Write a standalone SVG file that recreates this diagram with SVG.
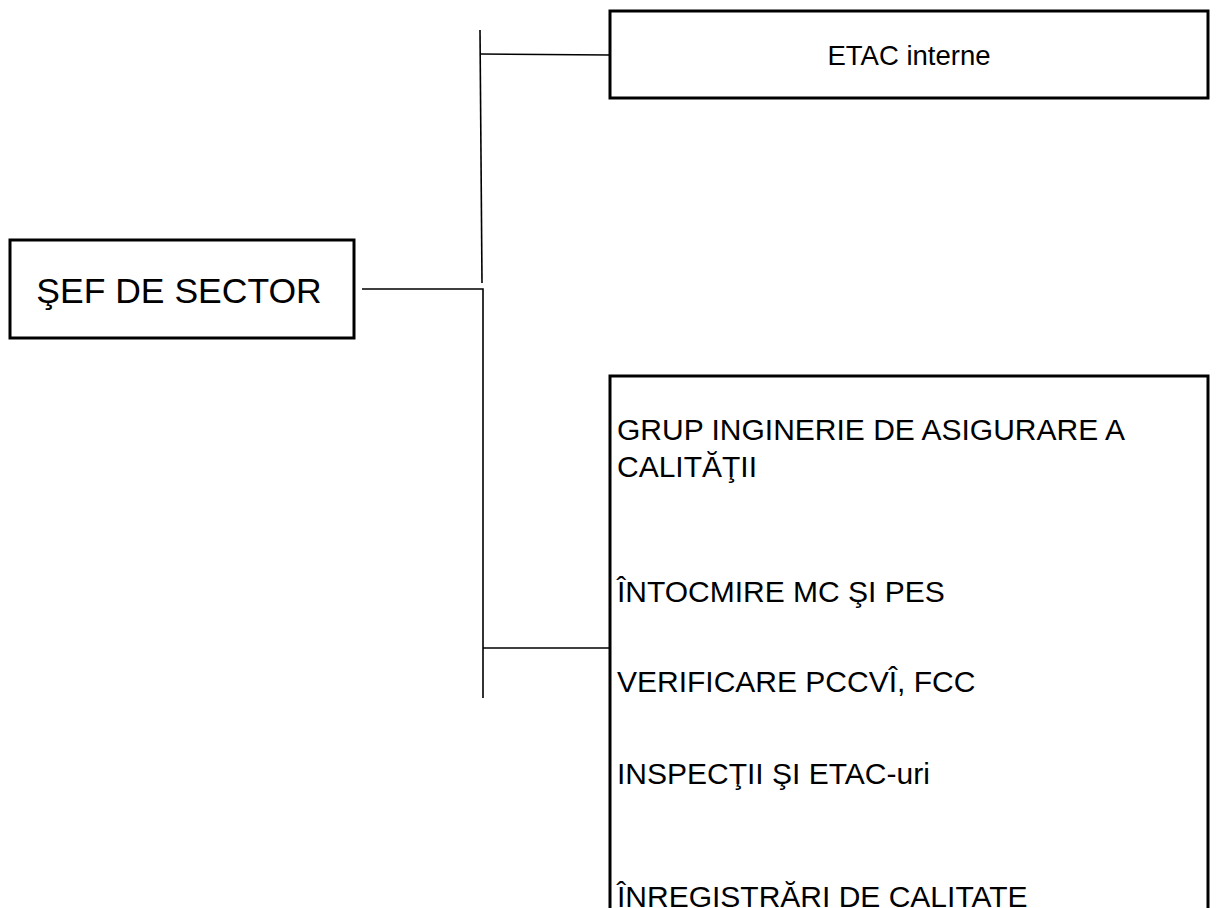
<svg xmlns="http://www.w3.org/2000/svg" width="1217" height="908" viewBox="0 0 1217 908">
<style>
.box{fill:#fff;stroke:#000;stroke-width:3}
.ln{fill:none;stroke:#000;stroke-width:1.6}
text{font-family:"Liberation Sans",Arial,sans-serif;fill:#000}
.t{font-size:30px}
</style>
<rect width="1217" height="908" fill="#fff"/>
<g id="connectors">
<polyline class="ln" points="480,30 482,283"/>
<line class="ln" x1="480" y1="54" x2="610" y2="55"/>
<polyline class="ln" points="362,289 483,289 483,698"/>
<line class="ln" x1="483" y1="648" x2="610" y2="648"/>
</g>
<g id="sef">
<rect class="box" x="10" y="240" width="344" height="98"/>
<text x="179" y="303" font-size="35.5" text-anchor="middle">ŞEF DE SECTOR</text>
</g>
<g id="etac">
<rect class="box" x="610" y="11" width="598" height="87"/>
<text x="909" y="65" font-size="27.5" text-anchor="middle">ETAC interne</text>
</g>
<g id="grup">
<rect class="box" x="610" y="376" width="598" height="560"/>
<text class="t" x="617" y="440">GRUP INGINERIE DE ASIGURARE A</text>
<text class="t" x="617" y="477">CALITĂŢII</text>
<text class="t" x="617" y="602">ÎNTOCMIRE MC ŞI PES</text>
<text class="t" x="617" y="692">VERIFICARE PCCVÎ, FCC</text>
<text class="t" x="617" y="784">INSPECŢII ŞI ETAC-uri</text>
<text class="t" x="617" y="907">ÎNREGISTRĂRI DE CALITATE</text>
</g>
</svg>
